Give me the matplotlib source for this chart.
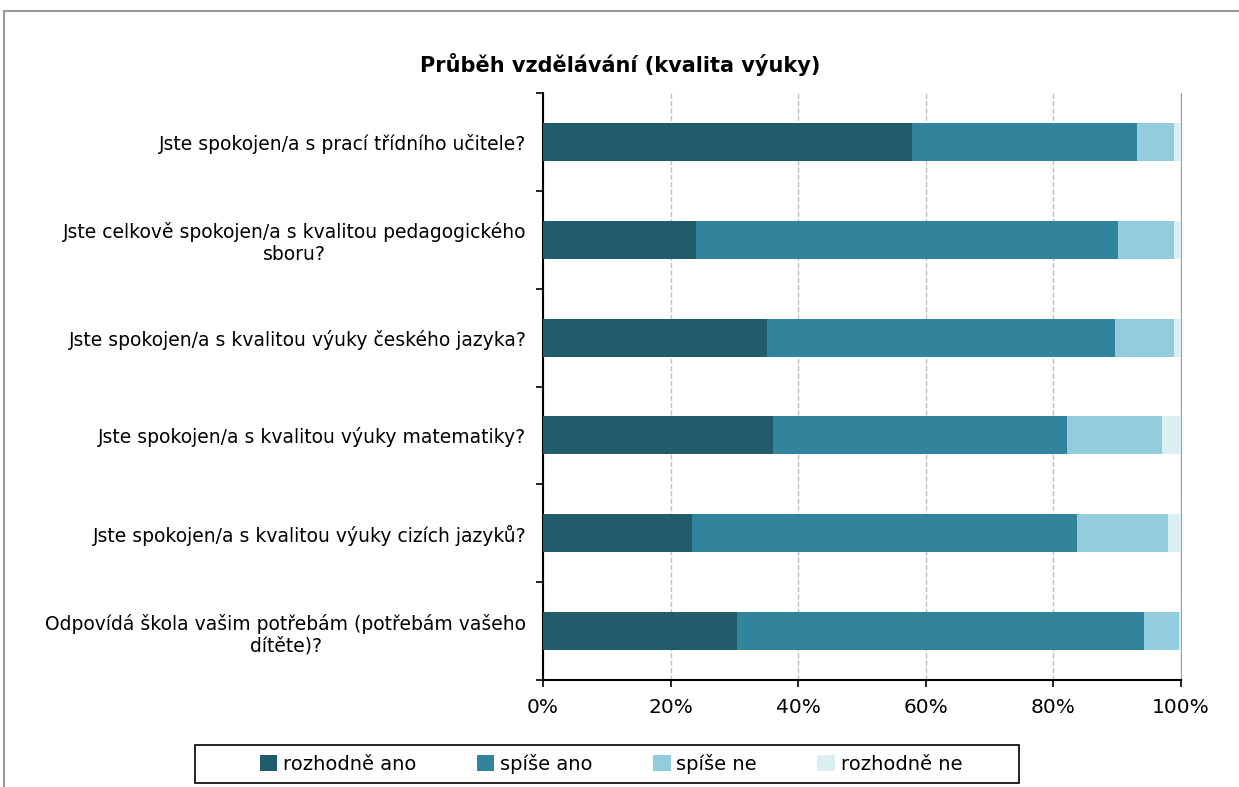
import matplotlib.pyplot as plt
from matplotlib.patches import Rectangle

questions = [
    "Jste spokojen/a s prací třídního učitele?",
    "Jste celkově spokojen/a s kvalitou pedagogického\nsboru?",
    "Jste spokojen/a s kvalitou výuky českého jazyka?",
    "Jste spokojen/a s kvalitou výuky matematiky?",
    "Jste spokojen/a s kvalitou výuky cizích jazyků?",
    "Odpovídá škola vašim potřebám (potřebám vašeho\ndítěte)?",
]
series_names = ["rozhodně ano", "spíše ano", "spíše ne", "rozhodně ne"]
rozhodne_ano = [57.8, 24.0, 35.1, 36.0, 23.4, 30.4]
spise_ano = [35.3, 66.1, 54.6, 46.1, 60.3, 63.8]
spise_ne = [5.8, 8.8, 9.2, 14.9, 14.3, 5.5]
rozhodne_ne = [1.1, 1.1, 1.1, 3.0, 2.0, 0.3]
colors = ["#225B6A", "#31849B", "#93CDDD", "#DAEEF3"]
x_ticks = [0, 20, 40, 60, 80, 100]

plt.rcParams['font.family'] = ['DejaVu Sans']

W, H = 1239, 787
fig = plt.figure(figsize=(W / 100, H / 100), dpi=100)
ax = fig.add_axes([543 / W, 1 - 680 / H, 638 / W, 587 / H])

# outer chart frame
fig.patches.append(Rectangle((4 / W, -0.05), 1.2, 1 - 11 / H + 0.05,
                             transform=fig.transFigure, fill=False,
                             edgecolor="#9a9a9a", linewidth=1.5))

ypos = list(range(len(questions)))
left = [0] * len(questions)
for name, vals, col in zip(series_names,
                           [rozhodne_ano, spise_ano, spise_ne, rozhodne_ne],
                           colors):
    ax.barh(ypos, vals, left=left, height=0.39, color=col, label=name, zorder=3)
    left = [a + b for a, b in zip(left, vals)]

ax.set_xlim(0, 100)
ax.set_ylim(len(questions) - 0.5, -0.5)
ax.set_xticks(x_ticks)
ax.set_xticklabels([f"{v}%" for v in x_ticks], fontsize=14.5)
ax.set_yticks(ypos)
ax.set_yticklabels(questions, fontsize=13.5, multialignment='center')
ax.tick_params(axis='y', length=0, pad=12)
ax.set_yticks([i - 0.5 for i in range(len(questions) + 1)], minor=True)
ax.tick_params(axis='y', which='minor', length=5, width=1.2, direction='out')
ax.tick_params(axis='x', length=5, width=1.2, direction='out', pad=8)

ax.grid(axis='x', linestyle='--', color='#c0c0c0', linewidth=1, zorder=0)
ax.spines['top'].set_visible(False)
ax.spines['right'].set_color('#a0a0a0')
ax.spines['left'].set_linewidth(1.5)
ax.spines['bottom'].set_linewidth(1.5)

fig.text(620 / W, 1 - 65 / H, "Průběh vzdělávání (kvalita výuky)",
         ha='center', va='center', fontsize=15, fontweight='bold')

# legend box drawn separately so it can be wider than the entries
fig.patches.append(Rectangle((195 / W, 1 - 783 / H), 824 / W, 38 / H,
                             transform=fig.transFigure, fill=False,
                             edgecolor='black', linewidth=1.2))
fig.legend(loc='center', bbox_to_anchor=(611 / W, 1 - 764 / H),
           ncol=4, fontsize=14, frameon=False,
           handlelength=0.9, handleheight=0.9,
           columnspacing=3.1, handletextpad=0.3, borderpad=0.45,
           borderaxespad=0)

fig.savefig("out.png", dpi=100)
